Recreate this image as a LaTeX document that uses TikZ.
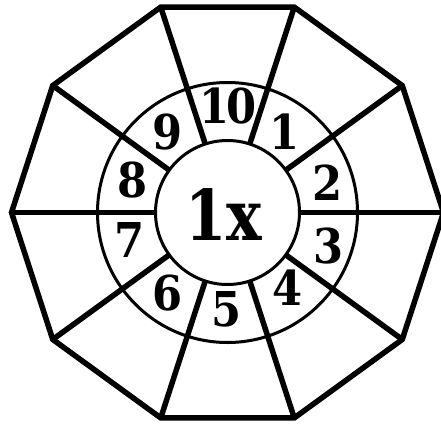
\documentclass[tikz,border=0pt]{standalone}
\usepackage{fontspec}
\usetikzlibrary{calc}
\newfontfamily\numfont{DejaVu Serif}[UprightFont=*, BoldFont=* Bold, FakeStretch=0.9]
\newfontfamily\bigfont{DejaVu Serif}[UprightFont=*, BoldFont=* Bold, FakeStretch=0.85]
\tikzset{
  thick line/.style={line width=5.5pt, line join=miter},
  ring/.style={circle, draw, line width=3pt, inner sep=0pt},
  num/.style={inner sep=0pt, font=\numfont\bfseries\fontsize{48}{48}\selectfont},
  big/.style={inner sep=0pt, font=\bigfont\bfseries\fontsize{70}{70}\selectfont}
}
\begin{document}
\begin{tikzpicture}[x=1pt,y=-1pt]
\useasboundingbox (0,0) rectangle (441,423);
\coordinate (C) at (227.5,212.5);
\foreach \i in {0,...,9}{
  \coordinate (v\i) at ($(C)+(\i*36:216)$);
  \coordinate (w\i) at ($(C)+(\i*36:72)$);
}
\node[ring, minimum size=260pt] (outer) at (C) {};
\node[ring, minimum size=144pt] (inner) at (C) {};
\draw[thick line] (v0) -- (v1) -- (v2) -- (v3) -- (v4) -- (v5) -- (v6) -- (v7) -- (v8) -- (v9) -- cycle;
\foreach \i in {0,...,9}{
  \draw[line width=5.5pt] (v\i) -- (w\i);
}
\node[big] (core) at (224,215) {1x};
\node[num] (n10) at (228,106) {1\kern-4pt0};
\node[num] (n1) at (285,132) {1};
\node[num] (n2) at (328,183) {2};
\node[num] (n3) at (329,246) {3};
\node[num] (n4) at (288,288) {4};
\node[num] (n5) at (227,309) {5};
\node[num] (n6) at (168,293) {6};
\node[num] (n7) at (130,240) {7};
\node[num] (n8) at (133,180) {8};
\node[num] (n9) at (168,132) {9};
\end{tikzpicture}
\end{document}
